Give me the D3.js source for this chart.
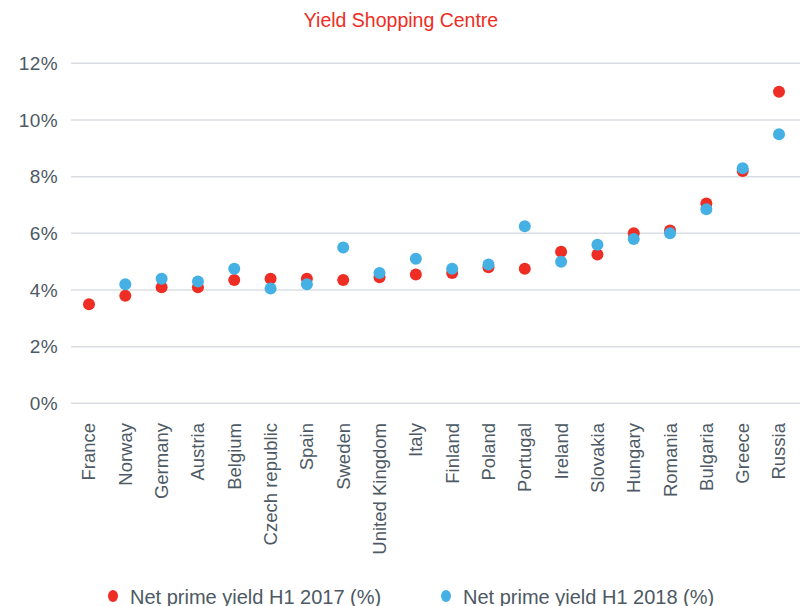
<!DOCTYPE html>
<html>
<head>
<meta charset="utf-8">
<script src="https://cdn.jsdelivr.net/npm/d3@7/dist/d3.min.js"></script>
<style>
  html, body { margin: 0; padding: 0; background: #fff; }
  svg { display: block; font-family: "Liberation Sans", Arial, Helvetica, sans-serif; }
</style>
</head>
<body>
<svg id="chart" width="801" height="606"></svg>
<script>
const title = "Yield Shopping Centre";
const categories = ["France","Norway","Germany","Austria","Belgium","Czech republic","Spain","Sweden","United Kingdom","Italy","Finland","Poland","Portugal","Ireland","Slovakia","Hungary","Romania","Bulgaria","Greece","Russia"];
const yield2017 = [3.5, 3.8, 4.1, 4.1, 4.35, 4.4, 4.4, 4.35, 4.45, 4.55, 4.6, 4.8, 4.75, 5.35, 5.25, 6.0, 6.1, 7.05, 8.2, 11.0];
const yield2018 = [null, 4.2, 4.4, 4.3, 4.75, 4.05, 4.2, 5.5, 4.6, 5.1, 4.75, 4.9, 6.25, 5.0, 5.6, 5.8, 6.0, 6.85, 8.3, 9.5];
const yTicks = [0, 2, 4, 6, 8, 10, 12];
const seriesNames = ["Net prime yield H1 2017 (%)", "Net prime yield H1 2018 (%)"];

const RED = "#ee2d24", BLUE = "#45b0e4", TEXT = "#4d5964", GRID = "#dadee3";

const svg = d3.select("#chart");
const plotLeft = 71, plotRight = 800;

const y = d3.scaleLinear().domain([0, 12]).range([403.3, 63.3]);
const x = d3.scalePoint().domain(categories).range([89, 779]);

// title
svg.append("text")
  .attr("x", 401).attr("y", 27)
  .attr("text-anchor", "middle")
  .attr("fill", RED)
  .style("font-size", "19.5px")
  .text(title);

// grid + y tick labels
const yAxis = svg.append("g");
yAxis.selectAll("line").data(yTicks).join("line")
  .attr("x1", plotLeft).attr("x2", plotRight)
  .attr("y1", d => y(d)).attr("y2", d => y(d))
  .attr("stroke", GRID).attr("stroke-width", 1.5);
yAxis.selectAll("text").data(yTicks).join("text")
  .attr("x", 58).attr("y", d => y(d))
  .attr("dy", "0.36em")
  .attr("text-anchor", "end")
  .attr("fill", TEXT)
  .style("font-size", "19px")
  .style("letter-spacing", "0.4px")
  .text(d => d + "%");

// category labels
svg.append("g").selectAll("text").data(categories).join("text")
  .attr("transform", d => `translate(${x(d)},423) rotate(-90)`)
  .attr("text-anchor", "end")
  .attr("dy", "0.35em")
  .attr("fill", TEXT)
  .style("font-size", "18.5px")
  .text(d => d);

// dots
const series = [
  { name: seriesNames[0], values: yield2017, color: RED },
  { name: seriesNames[1], values: yield2018, color: BLUE }
];
series.forEach(s => {
  svg.append("g").selectAll("circle")
    .data(categories.map((c, i) => ({ c, v: s.values[i] })).filter(d => d.v != null))
    .join("circle")
    .attr("cx", d => x(d.c))
    .attr("cy", d => y(d.v))
    .attr("r", 6)
    .attr("fill", s.color);
});

// legend
const legendX = [113, 446];
const lg = svg.append("g");
series.forEach((s, i) => {
  lg.append("ellipse")
    .attr("cx", legendX[i]).attr("cy", 596)
    .attr("rx", 5).attr("ry", 6)
    .attr("fill", s.color);
  lg.append("text")
    .attr("x", legendX[i] + 17).attr("y", 603.5)
    .attr("fill", TEXT)
    .style("font-size", "20px")
    .text(s.name);
});
</script>
</body>
</html>
